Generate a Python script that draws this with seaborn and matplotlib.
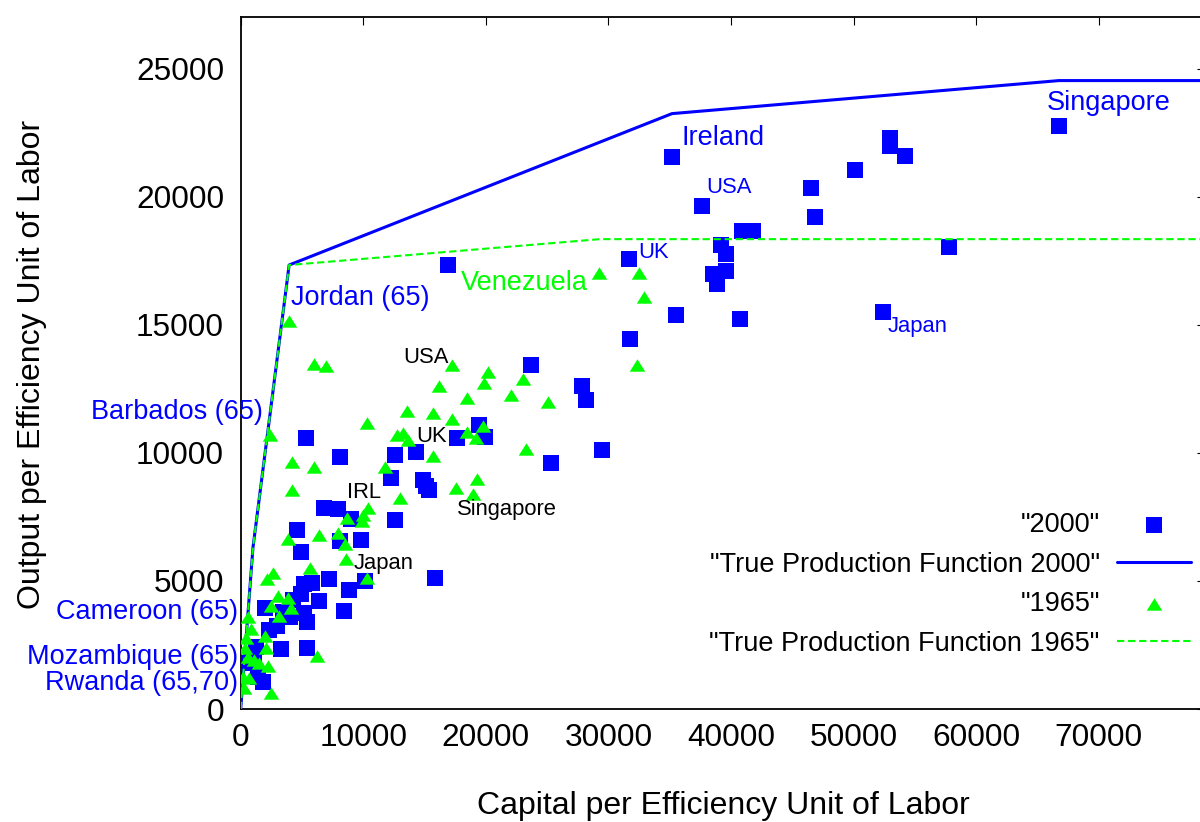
import numpy as np
import pandas as pd
import matplotlib
matplotlib.use("Agg")
import matplotlib.pyplot as plt
import seaborn as sns

# ---- 2000 observations: capital and output per efficiency unit of labor ----
k2000 = [35180, 52960, 52960, 54180, 66750, 50070, 37610, 46510, 46820, 40920,
         41790, 39180, 39590, 57780, 31680, 38550, 39590, 38850, 35510, 40730,
         52380, 31750, 16880,
         23680, 27870, 28140, 29450, 25290, 19440, 19930, 17620, 14270, 12590,
         8100, 5330, 12240, 14850, 15150, 15360, 6795, 7960, 8970, 12560,
         4570, 9790, 8100, 4890,
         7200, 10140, 15850, 8830, 5160, 5790, 6410, 8430, 4890, 4290,
         1980, 3470, 4020, 5160, 5380, 2940, 2330, 3260, 5380, 1280,
         1840, 1440, 700, 1110]
y2000 = [21540, 22290, 21960, 21600, 22770, 21050, 19620, 20340, 19190, 18670,
         18670, 18120, 17770, 18020, 17560, 16980, 17080, 16600, 15390, 15230,
         15480, 14460, 17320,
         13440, 12590, 12070, 10120, 9620, 11090, 10610, 10570, 10030, 9900,
         9820, 10560, 9035, 8930, 8720, 8530, 7840, 7800, 7420, 7380,
         6990, 6600, 6575, 6130,
         5090, 5000, 5130, 4650, 4870, 4930, 4230, 3840, 4480, 4260,
         3950, 3780, 3600, 3750, 3410, 3230, 3100, 2330, 2400, 2430,
         1050, 1230, 1790, 2040]

# ---- 1965 observations ----
k1965 = [29230, 32460, 32870, 32300, 3965, 5980, 6960, 17260, 20200, 23000,
         19850, 16180, 22050, 18440, 25100, 13590, 15710, 17260, 10280, 2390,
         12770, 13260, 13620, 18490, 19790, 19190, 23270, 15660, 4210, 5980,
         11800, 19250, 17560, 18970, 4160, 13000, 10360, 10000, 9870, 8650,
         6410, 7960, 3880, 8510, 8590, 5650, 10280, 2610, 2120, 3070,
         3880, 4130, 2460, 3090, 570, 830, 2000, 430, 2090, 330,
         570, 1110, 1520, 2200, 6200, 160, 700, 290, 2460]
y1965 = [17020, 17020, 16100, 13440, 15130, 13480, 13370, 13440, 13170, 12880,
         12720, 12620, 12270, 12140, 11970, 11650, 11550, 11310, 11180, 10700,
         10700, 10770, 10510, 10830, 11050, 10570, 10140, 9880, 9660, 9460,
         9460, 8970, 8620, 8400, 8530, 8230, 7840, 7580, 7320, 7450,
         6800, 6860, 6630, 6440, 5850, 5500, 5100, 5320, 5070, 4410,
         4340, 3960, 4030, 3620, 3610, 3120, 2830, 2760, 2380, 2400,
         2040, 1910, 1785, 1680, 2050, 1260, 1200, 810, 640]

# ---- frontier ("true production function") vertices ----
pf2000_k = [0, 1000, 3950, 35180, 66750, 80000]
pf2000_y = [0, 6300, 17330, 23240, 24530, 24530]
pf1965_k = [0, 1000, 3950, 29300, 80000]
pf1965_y = [0, 6300, 17330, 18340, 18340]

# ---- country annotations ----
notes_big = [
    ("Ireland", 35920, 22300, "left"),
    ("Singapore", 65770, 23670, "left"),
    ("Jordan (65)", 4100, 16050, "left"),
    ("Barbados (65)", 1820, 11600, "right"),
    ("Cameroon (65)", -200, 3780, "right"),
    ("Mozambique (65)", -200, 2045, "right"),
    ("Rwanda (65,70)", -200, 1000, "right"),
]
notes_small_2000 = [
    ("USA", 37960, 20350),
    ("UK", 32410, 17810),
    ("Japan", 52800, 14920),
]
notes_small_1965 = [
    ("USA", 13240, 13720),
    ("UK", 14280, 10640),
    ("IRL", 8650, 8450),
    ("Singapore", 17620, 7800),
    ("Japan", 9240, 5690),
]
venezuela_note = ("Venezuela", 17970, 16640)

BLUE = "#0000ff"
GREEN = "#00ff00"

sns.set_theme(style="white")
plt.rcParams["font.family"] = ["Liberation Sans", "DejaVu Sans"]
plt.rcParams.update({"text.color": "black", "axes.labelcolor": "black",
                     "xtick.color": "black", "ytick.color": "black",
                     "legend.labelcolor": "black"})

W, H = 1200, 822
fig = plt.figure(figsize=(W / 100, H / 100), dpi=100)
left, right, bottom, top = 240.7, 1205.0, 709.0, 17.3
ax = fig.add_axes([left / W, (H - bottom) / H, (right - left) / W, (bottom - top) / H])

px_per_k = 0.012259
ax.set_xlim(0, (right - left) / px_per_k)
ax.set_ylim(0, 27000)

tri = [(-1, -0.8), (1, -0.8), (0, 0.8)]

sns.scatterplot(x=k2000, y=y2000, marker="s", s=118, color=BLUE, linewidth=0,
                label='"2000"', ax=ax, zorder=3)
sns.lineplot(x=pf2000_k, y=pf2000_y, sort=False, estimator=None, color=BLUE,
             linewidth=2.2, label='"True Production Function 2000"', ax=ax, zorder=4)
sns.scatterplot(x=k1965, y=y1965, marker=tri, s=125, color=GREEN, linewidth=0,
                label='"1965"', ax=ax, zorder=5)
sns.lineplot(x=pf1965_k, y=pf1965_y, sort=False, estimator=None, color=GREEN,
             linewidth=1.5, dashes=(3.5, 1.8), label='"True Production Function 1965"',
             ax=ax, zorder=6)

for txt, k, y, ha in notes_big:
    ax.text(k, y, txt, color=BLUE, fontsize=19.5, ha=ha, va="center", zorder=7)
for txt, k, y in notes_small_2000:
    ax.text(k, y, txt, color=BLUE, fontsize=15.8, ha="left", va="center", zorder=7)
for txt, k, y in notes_small_1965:
    ax.text(k, y, txt, color="black", fontsize=15.8, ha="left", va="center", zorder=7)
ax.text(venezuela_note[1], venezuela_note[2], venezuela_note[0], color=GREEN,
        fontsize=19.5, ha="left", va="center", zorder=7)

# boxed frame with mirrored inward ticks
for sp in ax.spines.values():
    sp.set_visible(True)
    sp.set_color("black")
    sp.set_linewidth(1.3)
ax.set_xticks(np.arange(0, 70001, 10000))
ax.set_yticks(np.arange(0, 25001, 5000))
ax.tick_params(direction="in", length=5.8, width=0.8, colors="black",
               top=True, right=True, labelsize=22.8)
ax.tick_params(axis="y", pad=12)
ax.tick_params(axis="x", pad=10)

ax.set_xlabel("Capital per Efficiency Unit of Labor", fontsize=23, color="black")
ax.set_ylabel("Output per Efficiency Unit of Labor", fontsize=23, color="black")
ax.xaxis.set_label_coords((723 - left) / (right - left), (bottom - 791) / (bottom - top))
ax.yaxis.set_label_coords((47 - left) / (right - left), (bottom - 364) / (bottom - top))

handles, labels = ax.get_legend_handles_labels()
leg = ax.legend(handles, labels, markerfirst=False, frameon=False, loc="upper right",
                bbox_to_anchor=(1191 / W, 1 - 512 / H), bbox_transform=fig.transFigure,
                fontsize=19.5, handlelength=2.75, handletextpad=0.62, labelspacing=0.5,
                borderpad=0, borderaxespad=0)
for t in leg.get_texts():
    t.set_color("black")

fig.savefig("out.png", dpi=100)
